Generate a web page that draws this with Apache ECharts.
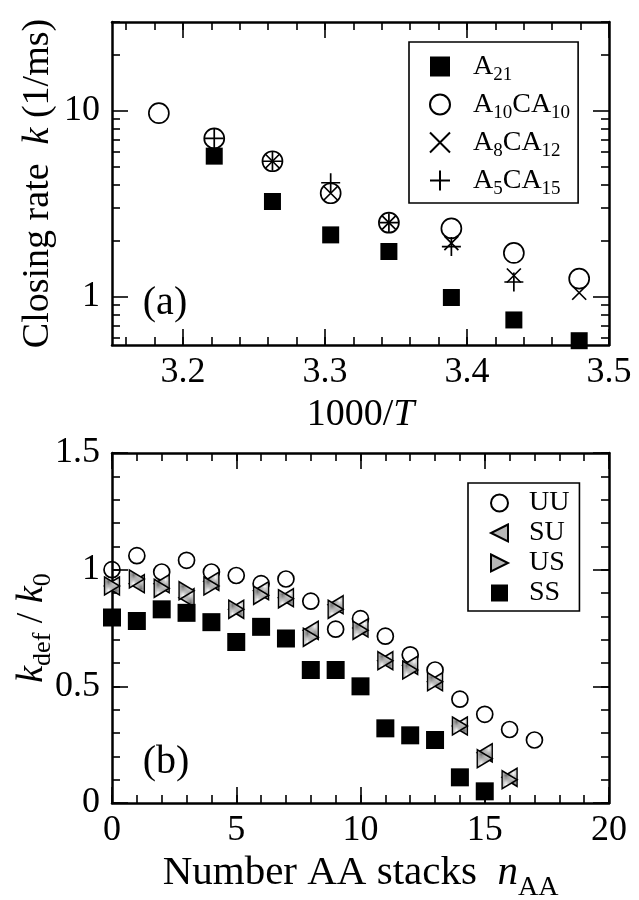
<!DOCTYPE html>
<html>
<head>
<meta charset="utf-8">
<script src="https://cdn.jsdelivr.net/npm/echarts@6/dist/echarts.min.js"></script>
<style>
html,body{margin:0;padding:0;background:#fff;}
#chart{width:639px;height:900px;}
</style>
</head>
<body>
<div id="chart"></div>
<script>
// ---------- DATA: panel (a) ----------
const invT = [3.183, 3.222, 3.263, 3.304, 3.345, 3.389, 3.433, 3.479];
const kA21     = [null, 5.7, 3.25, 2.15, 1.75, 0.99, 0.75, 0.58];
const kA10CA10 = [9.7, 7.1, 5.35, 3.6, 2.5, 2.33, 1.72, 1.25];
const kA8CA12  = [null, null, 5.35, 3.6, 2.5, 1.94, 1.3, 1.05];
const kA5CA15  = [null, 7.1, 5.35, 4.1, 2.5, 1.86, 1.2, null];
const topXLabels = [3.2, 3.3, 3.4, 3.5];
const topYLabels = [1, 10];
const topYMinor = [0.6, 0.7, 0.8, 0.9, 2, 3, 4, 5, 6, 7, 8, 9, 20, 30];

// ---------- DATA: panel (b) ----------
const nAA = [0,1,2,3,4,5,6,7,8,9,10,11,12,13,14,15,16,17];
const rUU = [1.0, 1.06, 0.99, 1.04, 0.99, 0.975, 0.94, 0.96, 0.865, 0.745, 0.79, 0.715, 0.635, 0.57, 0.445, 0.38, 0.315, 0.27];
const rSU = [0.93, 0.94, 0.94, 0.88, 0.95, 0.83, 0.91, 0.88, 0.74, 0.85, 0.75, 0.61, 0.59, 0.52, 0.33, 0.215, 0.11];
const rUS = [0.93, 0.96, 0.92, 0.91, 0.93, 0.83, 0.89, 0.875, 0.71, 0.83, 0.74, 0.61, 0.57, 0.52, 0.33, 0.19, 0.10];
const rSS = [0.795, 0.78, 0.83, 0.815, 0.775, 0.69, 0.755, 0.705, 0.57, 0.57, 0.50, 0.32, 0.29, 0.27, 0.11, 0.05];
const botXLabels = [0, 5, 10, 15, 20];
const botYLabels = [0, 0.5, 1, 1.5];

// ---------- helpers ----------
const FONT = 'Liberation Serif, Times New Roman, serif';
const L10 = v => Math.log10(v);
function range(a, b, step) { const r = []; for (let i = 0; Math.round((a + i * step) * 1e6) / 1e6 <= b; i++) r.push(Math.round((a + i * step) * 1e6) / 1e6); return r; }
const topXMinor = range(3.16, 3.5, 0.02);
const botXMinor = range(0, 20, 1);
const botYMinor = range(0, 1.5, 0.1);

const pc = document.createElement('canvas');
pc.width = 2; pc.height = 2;
const pctx = pc.getContext('2d');
pctx.fillStyle = '#fcfcfc'; pctx.fillRect(0, 0, 2, 2);
pctx.fillStyle = '#707070'; pctx.fillRect(0, 0, 1, 1); pctx.fillRect(1, 1, 1, 1);
const dotted = { image: pc, repeat: 'repeat' };

const LW = 2.5, TW = 1.6, MAJ = 16, MIN = 8;

function axisSet(kind, gridIndex, min, max, majors, minors, opts) {
  const sides = kind === 'x' ? ['bottom', 'top'] : ['left', 'right'];
  const res = [];
  sides.forEach((pos, si) => {
    const base = { type: 'value', gridIndex, min, max, position: pos, splitLine: { show: false }, scale: false };
    res.push(Object.assign({}, base, {
      axisLine: { show: true, onZero: false, lineStyle: { color: '#000', width: LW } },
      axisTick: { show: true, inside: true, length: MAJ, customValues: majors, lineStyle: { color: '#000', width: TW } },
      axisLabel: si === 0 ? Object.assign({ show: true, customValues: majors, color: '#000', fontFamily: FONT, fontSize: 36, margin: 10 }, opts.label || {}) : { show: false },
      nameMoveOverlap: false
    }, si === 0 ? (opts.name || {}) : {}));
    res.push(Object.assign({}, base, {
      axisLine: { show: false, onZero: false },
      axisTick: { show: true, inside: true, length: MIN, customValues: minors, lineStyle: { color: '#000', width: TW } },
      axisLabel: { show: false }
    }));
  });
  return res;
}

const xAxes = [].concat(
  axisSet('x', 0, 3.15, 3.5, topXLabels, topXMinor, {
    label: { formatter: v => v.toFixed(1) },
    name: { name: '1000/{i|T}', nameLocation: 'middle', nameGap: 50,
      nameTextStyle: { color: '#000', fontFamily: FONT, fontSize: 38, lineHeight: 40, rich: { i: { fontStyle: 'italic', fontFamily: FONT, fontSize: 38, color: '#000', lineHeight: 40 } } } }
  }),
  axisSet('x', 1, 0, 20, botXLabels, botXMinor, {
    name: { name: 'Number AA stacks  {i|n}{s|AA}', nameLocation: 'middle', nameGap: 49,
      nameTextStyle: { color: '#000', fontFamily: FONT, fontSize: 41, lineHeight: 42,
        rich: { i: { fontStyle: 'italic', fontFamily: FONT, fontSize: 41, color: '#000', lineHeight: 42 },
                s: { fontFamily: FONT, fontSize: 28, color: '#000', lineHeight: 28, padding: [30, 0, 0, 0] } } } }
  })
);

const yAxes = [].concat(
  axisSet('y', 0, L10(0.55), L10(30), topYLabels.map(L10), topYMinor.map(L10), {
    label: { formatter: v => String(Math.round(Math.pow(10, v))), margin: 12 },
    name: { name: 'Closing rate  {i|k} (1/ms)', nameLocation: 'middle', nameGap: 54,
      nameTextStyle: { color: '#000', fontFamily: FONT, fontSize: 38, lineHeight: 40, rich: { i: { fontStyle: 'italic', fontFamily: FONT, fontSize: 38, color: '#000', lineHeight: 40 } } } }
  }),
  axisSet('y', 1, 0, 1.5, botYLabels, botYMinor, {
    label: { formatter: v => String(v), margin: 12 },
    name: { name: '{i|k}{s|def} / {i|k}{s|0}', nameLocation: 'middle', nameGap: 60,
      nameTextStyle: { color: '#000', fontFamily: FONT, fontSize: 38, lineHeight: 40,
        rich: { i: { fontStyle: 'italic', fontFamily: FONT, fontSize: 38, color: '#000', lineHeight: 40 },
                s: { fontFamily: FONT, fontSize: 26, color: '#000', lineHeight: 26, padding: [22, 0, 0, 0] } } } }
  })
);

function pairs(xs, ys, tf) {
  const out = [];
  ys.forEach((v, i) => { if (v !== null && v !== undefined) out.push([xs[i], tf ? tf(v) : v]); });
  return out;
}

const crossPath = 'path://M0,0L10,10M10,0L0,10';
const plusPath = 'path://M5,0L5,10M0,5L10,5';
const leftTri = 'path://M10,0L0,5L10,10Z';
const rightTri = 'path://M0,0L10,5L0,10Z';

const hollow = { color: 'rgba(0,0,0,0)', borderColor: '#000', borderWidth: 1.7, opacity: 1 };
const solid = { color: '#000', opacity: 1 };
const tri = { color: dotted, borderColor: '#000', borderWidth: 1.5, opacity: 1 };

const series = [
  { name: 'A21', type: 'scatter', xAxisIndex: 0, yAxisIndex: 0, symbol: 'rect', symbolSize: 17,
    itemStyle: solid, data: pairs(invT, kA21, L10) },
  { name: 'A10CA10', type: 'scatter', xAxisIndex: 0, yAxisIndex: 0, symbol: 'circle', symbolSize: 20,
    itemStyle: hollow, data: pairs(invT, kA10CA10, L10) },
  { name: 'A8CA12', type: 'scatter', xAxisIndex: 0, yAxisIndex: 0, symbol: crossPath, symbolSize: 14,
    itemStyle: hollow, data: pairs(invT, kA8CA12, L10) },
  { name: 'A5CA15', type: 'scatter', xAxisIndex: 0, yAxisIndex: 0, symbol: plusPath, symbolSize: 19,
    itemStyle: hollow, data: pairs(invT, kA5CA15, L10) },

  { name: 'UU', type: 'scatter', xAxisIndex: 4, yAxisIndex: 4, symbol: 'circle', symbolSize: 16,
    itemStyle: hollow, data: pairs(nAA, rUU) },
  { name: 'SU', type: 'scatter', xAxisIndex: 4, yAxisIndex: 4, symbol: leftTri, symbolSize: [15, 18],
    itemStyle: tri, data: pairs(nAA, rSU) },
  { name: 'US', type: 'scatter', xAxisIndex: 4, yAxisIndex: 4, symbol: rightTri, symbolSize: [15, 18],
    itemStyle: tri, data: pairs(nAA, rUS) },
  { name: 'SS', type: 'scatter', xAxisIndex: 4, yAxisIndex: 4, symbol: 'rect', symbolSize: 18,
    itemStyle: solid, data: pairs(nAA, rSS) }
];
series.forEach(s => { s.animation = false; s.emphasis = { disabled: true }; s.clip = false; });

const legRichTop = {
  m: { fontFamily: FONT, fontSize: 28, color: '#000', lineHeight: 30 },
  s: { fontFamily: FONT, fontSize: 19, color: '#000', lineHeight: 19, padding: [18, 0, 0, 0] }
};
const legFmtTop = {
  'A21': '{m|A}{s|21}',
  'A10CA10': '{m|A}{s|10}{m|CA}{s|10}',
  'A8CA12': '{m|A}{s|8}{m|CA}{s|12}',
  'A5CA15': '{m|A}{s|5}{m|CA}{s|15}'
};

const option = {
  animation: false,
  backgroundColor: '#fff',
  grid: [
    { left: 112, top: 22, width: 497, height: 323, outerBoundsMode: 'none', containLabel: false },
    { left: 112, top: 453, width: 497, height: 350, outerBoundsMode: 'none', containLabel: false }
  ],
  xAxis: xAxes,
  yAxis: yAxes,
  legend: [
    { data: ['A21', 'A10CA10', 'A8CA12', 'A5CA15'], orient: 'vertical', left: 409, top: 42,
      itemWidth: 20, itemHeight: 20, itemGap: 1, padding: [6, 8, 4, 20],
      borderColor: '#000', borderWidth: 1.6, selectedMode: false,
      itemStyle: { opacity: 1 },
      formatter: n => legFmtTop[n],
      textStyle: { color: '#000', fontFamily: FONT, fontSize: 28, padding: [0, 0, 0, 18], rich: legRichTop } },
    { data: ['UU', 'SU', 'US', 'SS'], orient: 'vertical', left: 468, top: 483,
      itemWidth: 17, itemHeight: 17, itemGap: 2, padding: [6, 10, 4, 22],
      borderColor: '#000', borderWidth: 1.6, selectedMode: false,
      itemStyle: { opacity: 1 },
      textStyle: { color: '#000', fontFamily: FONT, fontSize: 28, lineHeight: 26, padding: [0, 0, 0, 16] } }
  ],
  graphic: [
    { type: 'text', x: 165, y: 303, style: { text: '(a)', font: '40px ' + FONT, fill: '#000', textAlign: 'center', textVerticalAlign: 'middle' } },
    { type: 'text', x: 166, y: 762, style: { text: '(b)', font: '40px ' + FONT, fill: '#000', textAlign: 'center', textVerticalAlign: 'middle' } }
  ],
  series
};

const chart = echarts.init(document.getElementById('chart'), null, { renderer: 'canvas' });
chart.setOption(option);
</script>
</body>
</html>
